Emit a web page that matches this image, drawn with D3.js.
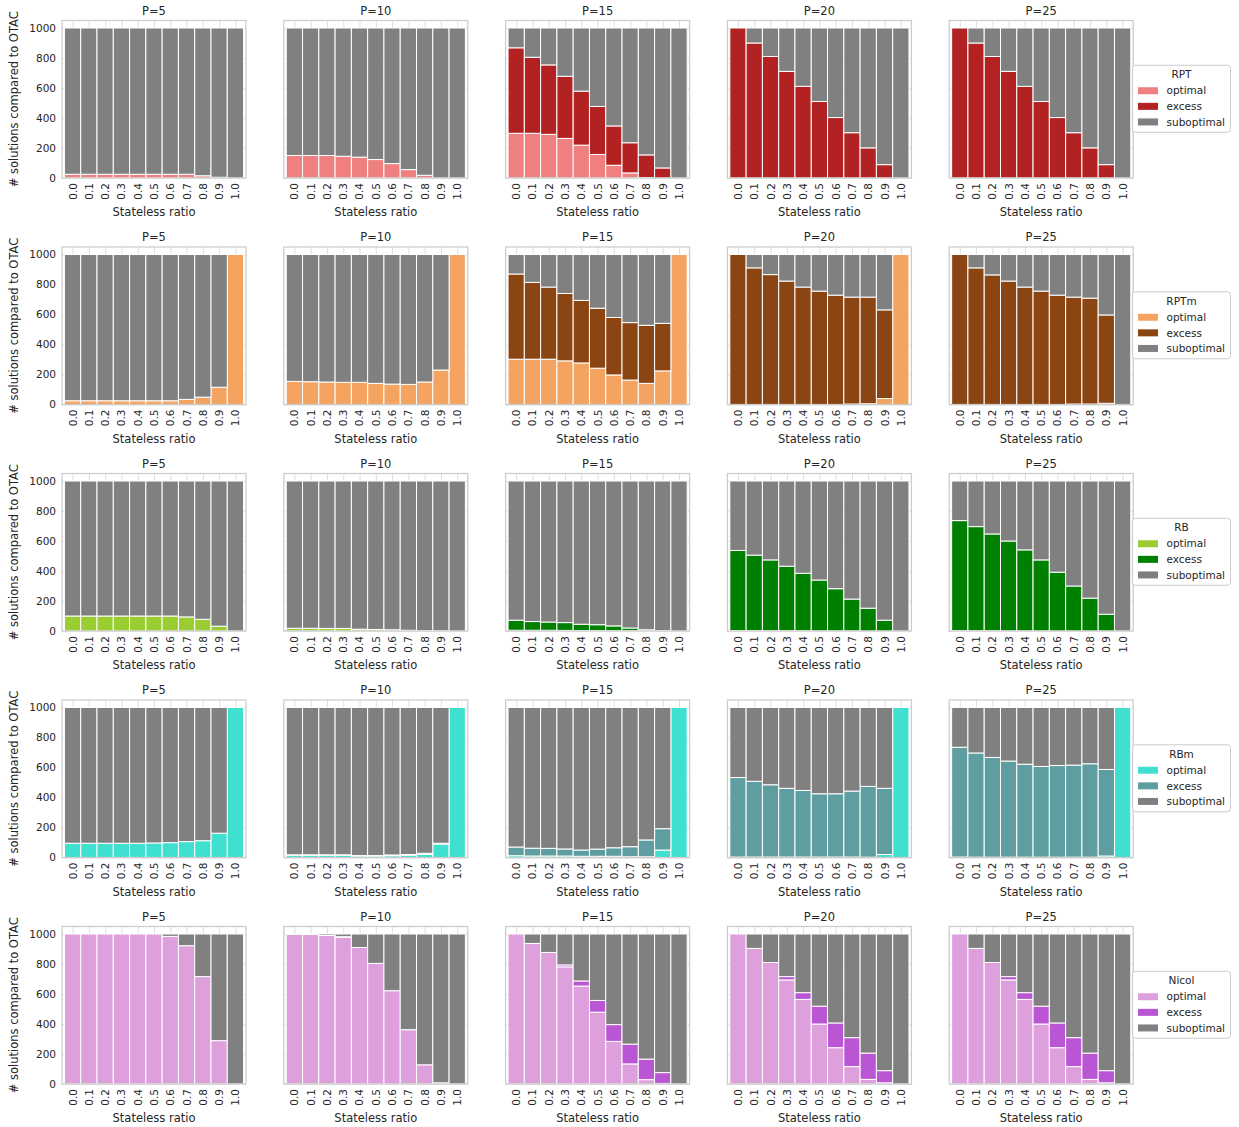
<!DOCTYPE html>
<html>
<head>
<meta charset="utf-8">
<script src="https://cdn.jsdelivr.net/npm/d3@7"></script>
<style>
  body { margin: 0; background: #fff; }
  svg { display: block; }
  text { font-family: "DejaVu Sans", sans-serif; fill: #262626; }
</style>
</head>
<body>
<svg id="chart" width="1239" height="1127"></svg>
<script>
// ---- data -------------------------------------------------------------
const ratios = [0.0, 0.1, 0.2, 0.3, 0.4, 0.5, 0.6, 0.7, 0.8, 0.9, 1.0];
const ratioLabels = ["0.0", "0.1", "0.2", "0.3", "0.4", "0.5", "0.6", "0.7", "0.8", "0.9", "1.0"];
const pValues = [5, 10, 15, 20, 25];
const methods = ["RPT", "RPTm", "RB", "RBm", "Nicol"];
const outcomes = ["optimal", "excess", "suboptimal"];
const yTicks = [0, 200, 400, 600, 800, 1000];

// one row per P (5, 10, 15, 20, 25), one value per stateless ratio
const rptOptimal = [
  [25, 25, 25, 25, 25, 25, 25, 25, 15, 5, 0],
  [150, 150, 150, 145, 139, 123, 96, 56, 18, 0, 0],
  [298, 298, 291, 264, 219, 157, 85, 34, 3, 0, 0],
  [0, 0, 0, 0, 0, 0, 0, 0, 0, 0, 0],
  [0, 0, 0, 0, 0, 0, 0, 0, 0, 0, 0]
];
const rptExcess = [
  [0, 0, 0, 0, 0, 0, 0, 0, 0, 0, 0],
  [0, 0, 0, 0, 0, 0, 0, 0, 0, 0, 0],
  [570, 507, 463, 414, 360, 320, 262, 201, 151, 67, 0],
  [1000, 900, 810, 711, 611, 510, 403, 302, 201, 89, 0],
  [1000, 900, 810, 711, 611, 510, 403, 302, 201, 89, 0]
];
const rptSuboptimal = [
  [975, 975, 975, 975, 975, 975, 975, 975, 985, 995, 1000],
  [850, 850, 850, 855, 861, 877, 904, 944, 982, 1000, 1000],
  [132, 195, 246, 322, 421, 523, 653, 765, 846, 933, 1000],
  [0, 100, 190, 289, 389, 490, 597, 698, 799, 911, 1000],
  [0, 100, 190, 289, 389, 490, 597, 698, 799, 911, 1000]
];

const rptmOptimal = [
  [25, 25, 25, 25, 25, 25, 25, 34, 49, 115, 1000],
  [154, 152, 150, 148, 148, 141, 136, 134, 150, 230, 1000],
  [302, 302, 302, 291, 277, 242, 197, 163, 141, 224, 1000],
  [0, 0, 0, 0, 0, 0, 0, 3, 5, 40, 1000],
  [0, 0, 0, 0, 0, 0, 0, 3, 3, 8, 0]
];
const rptmExcess = [
  [0, 0, 0, 0, 0, 0, 0, 0, 0, 0, 0],
  [0, 0, 0, 0, 0, 0, 0, 0, 0, 0, 0],
  [568, 512, 481, 449, 417, 400, 383, 383, 387, 317, 0],
  [1000, 911, 866, 823, 783, 756, 729, 713, 711, 591, 0],
  [1000, 911, 864, 823, 783, 756, 729, 713, 706, 589, 0]
];
const rptmSuboptimal = [
  [975, 975, 975, 975, 975, 975, 975, 966, 951, 885, 0],
  [846, 848, 850, 852, 852, 859, 864, 866, 850, 770, 0],
  [130, 186, 217, 260, 306, 358, 420, 454, 472, 459, 0],
  [0, 89, 134, 177, 217, 244, 271, 284, 284, 369, 0],
  [0, 89, 136, 177, 217, 244, 271, 284, 291, 403, 1000]
];

const rbOptimal = [
  [100, 100, 100, 100, 100, 100, 100, 94, 78, 32, 0],
  [18, 18, 17, 17, 12, 10, 8, 5, 3, 2, 0],
  [5, 5, 5, 4, 3, 3, 2, 2, 1, 0, 0],
  [3, 3, 2, 2, 2, 1, 1, 1, 0, 0, 0],
  [3, 2, 2, 1, 1, 1, 0, 0, 0, 0, 0]
];
const rbExcess = [
  [0, 0, 0, 0, 0, 0, 0, 0, 0, 0, 0],
  [0, 0, 0, 0, 0, 0, 0, 0, 0, 0, 0],
  [67, 58, 55, 52, 42, 39, 32, 18, 7, 3, 0],
  [534, 503, 472, 430, 383, 339, 281, 212, 152, 72, 0],
  [733, 694, 645, 599, 540, 473, 392, 300, 219, 112, 0]
];
const rbSuboptimal = [
  [900, 900, 900, 900, 900, 900, 900, 906, 922, 968, 1000],
  [982, 982, 983, 983, 988, 990, 992, 995, 997, 998, 1000],
  [928, 937, 940, 944, 955, 958, 966, 980, 992, 997, 1000],
  [463, 494, 526, 568, 615, 660, 718, 787, 848, 928, 1000],
  [264, 304, 353, 400, 459, 526, 608, 700, 781, 888, 1000]
];

const rbmOptimal = [
  [95, 95, 95, 95, 95, 97, 99, 106, 112, 162, 1000],
  [15, 15, 15, 15, 10, 10, 12, 15, 20, 90, 1000],
  [12, 10, 10, 10, 8, 8, 8, 5, 5, 50, 1000],
  [3, 3, 3, 3, 3, 3, 3, 3, 2, 20, 1000],
  [3, 2, 2, 2, 2, 2, 2, 2, 2, 10, 1000]
];
const rbmExcess = [
  [0, 0, 0, 0, 0, 0, 0, 0, 0, 0, 0],
  [3, 3, 3, 3, 3, 3, 5, 5, 8, 5, 0],
  [58, 52, 51, 47, 42, 48, 57, 67, 112, 142, 0],
  [530, 505, 482, 458, 444, 422, 422, 440, 472, 441, 0],
  [732, 695, 665, 641, 620, 605, 611, 614, 623, 577, 0]
];
const rbmSuboptimal = [
  [905, 905, 905, 905, 905, 903, 901, 894, 888, 838, 0],
  [982, 982, 982, 982, 987, 987, 983, 980, 972, 905, 0],
  [930, 938, 939, 943, 950, 944, 935, 928, 883, 808, 0],
  [467, 492, 515, 539, 553, 575, 575, 557, 526, 539, 0],
  [265, 303, 333, 357, 378, 393, 387, 384, 375, 413, 0]
];

const nicolOptimal = [
  [1000, 1000, 1000, 1000, 1000, 1000, 984, 922, 716, 289, 0],
  [998, 997, 990, 978, 910, 804, 622, 362, 128, 8, 0],
  [1000, 937, 877, 781, 653, 479, 284, 134, 29, 4, 0],
  [1000, 904, 810, 694, 564, 400, 242, 116, 31, 8, 0],
  [1000, 904, 810, 694, 564, 400, 242, 116, 31, 8, 0]
];
const nicolExcess = [
  [0, 0, 0, 0, 0, 0, 0, 0, 0, 0, 0],
  [0, 0, 0, 4, 0, 0, 0, 0, 0, 0, 0],
  [0, 0, 0, 13, 34, 78, 112, 132, 137, 72, 0],
  [0, 0, 0, 22, 45, 119, 165, 193, 175, 81, 0],
  [0, 0, 0, 22, 45, 119, 165, 193, 175, 81, 0]
];
const nicolSuboptimal = [
  [0, 0, 0, 0, 0, 0, 16, 78, 284, 711, 1000],
  [2, 3, 10, 18, 90, 196, 378, 638, 872, 992, 1000],
  [0, 63, 123, 206, 313, 443, 604, 734, 834, 924, 1000],
  [0, 96, 190, 284, 391, 481, 593, 691, 794, 911, 1000],
  [0, 96, 190, 284, 391, 481, 593, 691, 794, 911, 1000]
];

const methodSeries = {
  RPT:   [rptOptimal, rptExcess, rptSuboptimal],
  RPTm:  [rptmOptimal, rptmExcess, rptmSuboptimal],
  RB:    [rbOptimal, rbExcess, rbSuboptimal],
  RBm:   [rbmOptimal, rbmExcess, rbmSuboptimal],
  Nicol: [nicolOptimal, nicolExcess, nicolSuboptimal]
};

// ---- styling ------------------------------------------------------------
const palette = {
  RPT:   ["#F08080", "#B22222", "#808080"],
  RPTm:  ["#F4A460", "#8B4513", "#808080"],
  RB:    ["#9ACD32", "#008000", "#808080"],
  RBm:   ["#40E0D0", "#5F9EA0", "#808080"],
  Nicol: ["#DDA0DD", "#BA55D3", "#808080"]
};

const colLeft0 = 62, colStep = 221.8, panelW = 184;
const rowTop0 = 20.5, rowStep = 226.5, panelH = 157.5;
const gridColor = "#dadada", frameColor = "#cccccc";

const svg = d3.select("#chart");

const x = d3.scaleLinear().domain([-0.065, 1.065]).range([0, panelW]);
const y = d3.scaleLinear().domain([0, 1050]).range([panelH, 0]);
const barW = x(0.1) - x(0);

const stack = d3.stack().keys(outcomes);

methods.forEach((method, r) => {
  const [opt, exc, sub] = methodSeries[method];
  const colors = palette[method];
  const top = rowTop0 + r * rowStep;

  pValues.forEach((p, c) => {
    const left = colLeft0 + c * colStep;
    const g = svg.append("g").attr("transform", `translate(${left},${top})`);

    // horizontal grid + y tick labels
    const yAxis = g.append("g")
      .call(d3.axisLeft(y).tickValues(yTicks).tickFormat(d3.format("d"))
        .tickSize(-panelW).tickPadding(6));
    yAxis.select(".domain").remove();
    yAxis.selectAll("line").attr("stroke", gridColor).attr("stroke-width", 0.9);
    yAxis.selectAll("text")
      .style("font-size", "10.5px")
      .attr("fill", "#262626")
      .attr("display", c === 0 ? null : "none");

    // vertical grid + rotated x tick labels
    const xAxis = g.append("g")
      .attr("transform", `translate(0,${panelH})`)
      .call(d3.axisBottom(x).tickValues(ratios)
        .tickFormat((d, i) => ratioLabels[i]).tickSize(-panelH));
    xAxis.select(".domain").remove();
    xAxis.selectAll("line").attr("stroke", gridColor).attr("stroke-width", 0.9);
    xAxis.selectAll("text")
      .style("font-size", "10.5px")
      .attr("fill", "#262626")
      .attr("transform", "rotate(-90)")
      .attr("text-anchor", "end")
      .attr("x", -5)
      .attr("y", 0)
      .attr("dy", "0.33em");

    // stacked bars
    const records = ratios.map((ratio, i) => ({
      ratio,
      optimal: opt[c][i],
      excess: exc[c][i],
      suboptimal: sub[c][i]
    }));
    const layers = stack(records);
    g.append("g").selectAll("g")
      .data(layers)
      .join("g")
      .attr("fill", (d, k) => colors[k])
      .selectAll("rect")
      .data(d => d)
      .join("rect")
      .attr("x", d => x(d.data.ratio - 0.05))
      .attr("width", barW)
      .attr("y", d => y(d[1]))
      .attr("height", d => y(d[0]) - y(d[1]))
      .attr("stroke", "#ffffff")
      .attr("stroke-width", 1);

    // axes frame
    g.append("rect")
      .attr("width", panelW).attr("height", panelH)
      .attr("fill", "none")
      .attr("stroke", frameColor)
      .attr("stroke-width", 1.25);

    // title and x label
    g.append("text")
      .attr("x", panelW / 2).attr("y", -6)
      .attr("text-anchor", "middle")
      .style("font-size", "11.5px")
      .text(`P=${p}`);
    g.append("text")
      .attr("x", panelW / 2).attr("y", panelH + 38)
      .attr("text-anchor", "middle")
      .style("font-size", "11.5px")
      .text("Stateless ratio");

    if (c === 0) {
      g.append("text")
        .attr("transform", `translate(${14 - left},${panelH / 2}) rotate(-90)`)
        .attr("text-anchor", "middle")
        .attr("dy", "0.35em")
        .style("font-size", "11.5px")
        .text("# solutions compared to OTAC");
    }
  });

  // legend for the row
  const lg = svg.append("g")
    .attr("transform", `translate(1132.5,${top + panelH / 2 - 34})`);
  lg.append("rect")
    .attr("width", 98).attr("height", 67).attr("rx", 3)
    .attr("fill", "#ffffff").attr("fill-opacity", 0.85)
    .attr("stroke", frameColor).attr("stroke-width", 1);
  lg.append("text")
    .attr("x", 49).attr("y", 9.5)
    .attr("text-anchor", "middle")
    .attr("dy", "0.35em")
    .style("font-size", "10.5px")
    .text(method);
  outcomes.forEach((o, k) => {
    const cy = 25.5 + k * 15.6;
    lg.append("rect")
      .attr("x", 5.5).attr("y", cy - 3.5)
      .attr("width", 20).attr("height", 7)
      .attr("fill", colors[k]);
    lg.append("text")
      .attr("x", 34).attr("y", cy)
      .attr("dy", "0.35em")
      .style("font-size", "10.5px")
      .text(o);
  });
});
</script>
</body>
</html>
